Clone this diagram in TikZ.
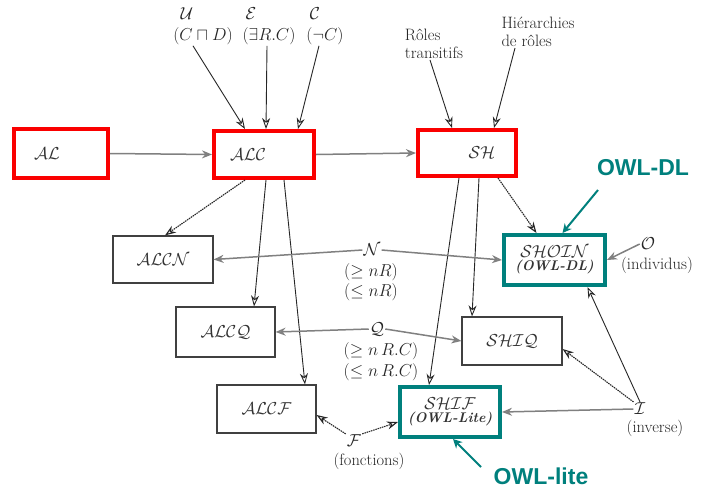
\documentclass[tikz,border=0pt]{standalone}
\usepackage{fontspec}
\newfontfamily\owlfont{Liberation Sans}
\usetikzlibrary{arrows.meta}
\definecolor{owlred}{RGB}{250,0,0}
\definecolor{owlteal}{RGB}{0,128,125}
\begin{document}
\begin{tikzpicture}[x=1pt,y=-1pt,
  redbox/.style={draw=owlred, line width=4pt, fill=white, inner sep=0pt, text=black!80, font=\fontsize{19}{21}\selectfont},
  tealbox/.style={draw=owlteal, line width=4pt, fill=white, inner sep=0pt, align=center, text=black!80, font=\fontsize{14}{15}\selectfont},
  graybox/.style={draw=black!75, line width=1.2pt, fill=white, inner sep=0pt, text=black!80, font=\fontsize{19}{21}\selectfont},
  lbl/.style={inner sep=1pt, align=center, text=black!85, font=\fontsize{16.5}{18}\selectfont},
  conn/.style={draw=black!85, line width=0.9pt, -{Stealth[open,length=11pt,width=8pt]}},
  dconn/.style={conn, dash pattern=on 1.5pt off 0.8pt, line width=1.1pt},
  hconn/.style={draw=black!50, line width=1.5pt, -{Stealth[open,length=10pt,width=8pt]}},
  owllbl/.style={inner sep=0pt, text=owlteal, font=\owlfont\bfseries\fontsize{23}{26}\selectfont},
  owlarrow/.style={draw=owlteal, line width=2pt, -{Stealth[length=9pt,width=9pt]}}]
\useasboundingbox[fill=white] (0,0) rectangle (718,488);

% boxes
\node[redbox, minimum width=94pt, minimum height=49pt] (AL) at (61,153.5) {$\mathcal{AL}$\hspace*{28pt}};
\node[redbox, minimum width=100pt, minimum height=47pt] (ALC) at (264,154.5) {$\mathcal{ALC}$\hspace*{32pt}};
\node[redbox, minimum width=98pt, minimum height=46pt] (SH) at (467,153) {\hspace*{30pt}$\mathcal{SH}$};
\node[tealbox, minimum width=101pt, minimum height=50pt] (SHOIN) at (554.5,260) {{\fontsize{18}{18}\selectfont$\mathcal{SHOIN}$}\\[-2pt]\textbf{\textit{(OWL-DL)}}};
\node[tealbox, minimum width=100pt, minimum height=50pt] (SHIF) at (450,412) {{\fontsize{18}{18}\selectfont$\mathcal{SHIF}$}\\[-2pt]\textbf{\textit{(OWL-Lite)}}};
\node[graybox, minimum width=100pt, minimum height=47pt] (ALCN) at (163,259.5) {$\mathcal{ALCN}$};
\node[graybox, minimum width=99pt, minimum height=50pt] (ALCQ) at (225.5,332) {$\mathcal{ALCQ}$};
\node[graybox, minimum width=99pt, minimum height=48pt] (ALCF) at (266.5,409) {$\mathcal{ALCF}$};
\node[graybox, minimum width=100pt, minimum height=48pt] (SHIQ) at (512,341) {$\mathcal{SHIQ}$};

% top labels
\node[lbl] (Usym) at (187,14) {$\mathcal{U}$};
\node[lbl] (cud) at (203,36) {$(C\sqcap D)$};
\node[lbl] (Esym) at (251,14) {$\mathcal{E}$};
\node[lbl] (ex) at (269,36) {$(\exists R.C)$};
\node[lbl] (Csym) at (315,14) {$\mathcal{C}$};
\node[lbl] (neg) at (325,36) {$(\neg C)$};
\node[lbl, align=left] (rt) at (434,44) {Rôles\\transitifs};
\node[lbl, align=left] (hr) at (538,32) {Hiérarchies\\de rôles};

% side labels
\node[lbl] (N) at (372,250) {$\mathcal{N}$};
\node[lbl] (nge) at (371,272) {$(\geq nR)$};
\node[lbl] (nle) at (371,292) {$(\leq nR)$};
\node[lbl] (Q) at (377,329) {$\mathcal{Q}$};
\node[lbl] (qge) at (381,351) {$(\geq n\,R.C)$};
\node[lbl] (qle) at (381,372) {$(\leq n\,R.C)$};
\node[lbl] (O) at (648,244) {$\mathcal{O}$};
\node[lbl] (ind) at (657,265) {(individus)};
\node[lbl] (I) at (640,409) {$\mathcal{I}$};
\node[lbl] (inv) at (655,428) {(inverse)};
\node[lbl] (F) at (354,441) {$\mathcal{F}$};
\node[lbl] (fon) at (369,461) {(fonctions)};

% OWL labels
\node[owllbl] (owldl) at (643,168) {OWL-DL};
\node[owllbl] (owllite) at (541,476) {OWL-lite};
\coordinate (dlt) at (598,190);
\coordinate (ltt) at (481,467);

% connectors from top labels
\draw[conn] ([xshift=-10pt]cud.south) -- ([xshift=-19pt]ALC.north);
\draw[conn] ([xshift=-2pt]ex.south) -- ([xshift=2pt]ALC.north);
\draw[conn] ([xshift=-6pt]neg.south) -- ([xshift=34pt]ALC.north);
\draw[conn] ([xshift=-4pt]rt.south) -- ([xshift=-15pt]SH.north);
\draw[conn] ([xshift=-23pt]hr.south) -- ([xshift=27pt]SH.north);

% main flow
\draw[hconn] (AL.east) -- (ALC.west);
\draw[hconn] (ALC.east) -- (SH.west);
\draw[dconn] ([xshift=-19pt]ALC.south) -- ([xshift=2pt]ALCN.north);
\draw[conn] ([xshift=2pt]ALC.south) -- ([xshift=28.5pt]ALCQ.north);
\draw[conn] ([xshift=20pt]ALC.south) -- ([xshift=38.5pt]ALCF.north);
\draw[conn] ([xshift=-8pt]SH.south) -- ([xshift=-21pt]SHIF.north);
\draw[conn] ([xshift=12pt]SH.south) -- ([xshift=-40pt]SHIQ.north);
\draw[dconn] ([xshift=31pt]SH.south) -- ([xshift=-18pt]SHOIN.north);

% constructors
\draw[hconn] (N.west) -- (ALCN.east);
\draw[hconn] (N.east) -- (SHOIN.west);
\draw[hconn] (Q.west) -- (ALCQ.east);
\draw[hconn] (Q.east) -- (SHIQ.west);
\draw[hconn] (O.west) -- (SHOIN.east);
\draw[hconn] (I.west) -- (SHIF.east);
\draw[dconn] (I.north west) -- ([yshift=-8pt]SHIQ.east);
\draw[conn] (I.north) -- ([xshift=33pt]SHOIN.south);
\draw[dconn] (F.north west) -- ([yshift=-6pt]ALCF.east);
\draw[dconn] (F.north east) -- ([yshift=-10pt]SHIF.west);

% OWL arrows
\draw[owlarrow] (dlt) -- ([xshift=8pt]SHOIN.north);
\draw[owlarrow] (ltt) -- ([xshift=3pt]SHIF.south);
\end{tikzpicture}
\end{document}
